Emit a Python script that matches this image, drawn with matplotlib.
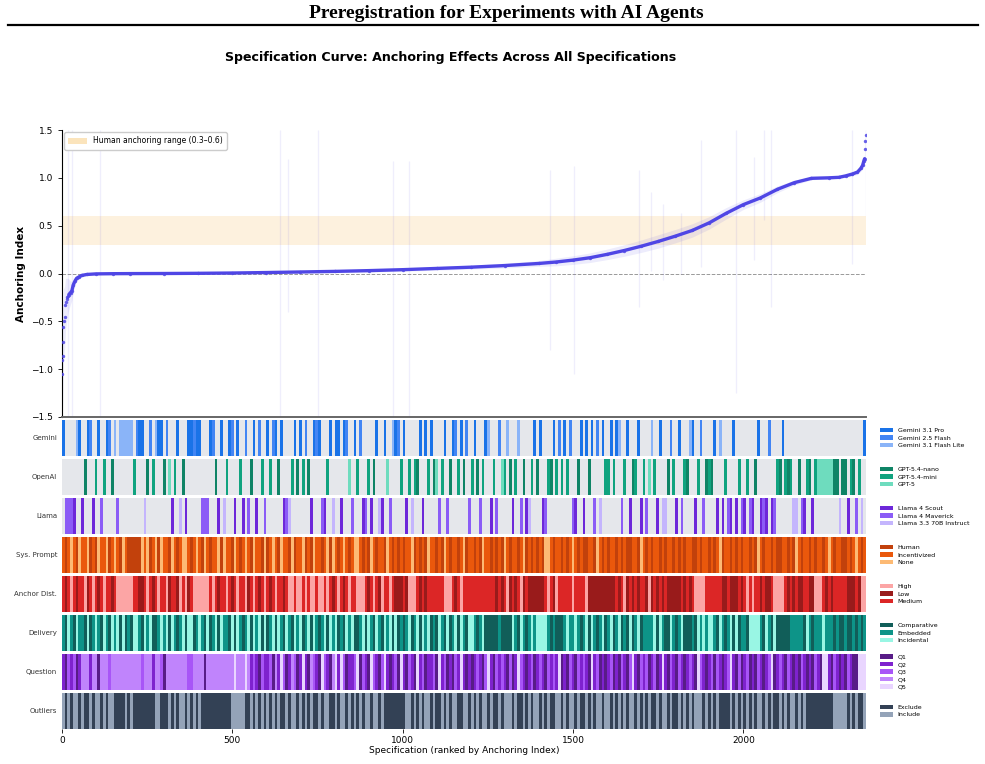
import numpy as np
import matplotlib.pyplot as plt
from matplotlib.colors import to_rgb
from matplotlib.patches import Patch

n_specs = 2360
bin_size = 8  # each code character covers 8 ranked specifications

# sorted anchoring index at sample ranks
curve_rank = [0, 1, 2, 3, 4, 6, 8, 10, 12, 14, 16, 18,
              20, 25, 29, 33, 38, 43, 50, 58, 73, 100, 150, 200,
              300, 400, 500, 600, 700, 800, 900, 1000, 1100, 1200, 1300, 1400,
              1450, 1500, 1550, 1600, 1650, 1700, 1750, 1800, 1850, 1900, 1950,
              2000, 2050, 2100, 2150, 2200, 2250,
              2280, 2300, 2320, 2335, 2345, 2350, 2354, 2356, 2357, 2358, 2359]
curve_value = [-1.05, -0.90, -0.86, -0.72, -0.56, -0.50, -0.45, -0.33, -0.30, -0.27, -0.25, -0.23,
               -0.22, -0.20, -0.18, -0.12, -0.08, -0.05, -0.035, -0.02, -0.01, -0.004, -0.002, -0.001,
               0.000, 0.002, 0.005, 0.010, 0.016, 0.022, 0.030, 0.040, 0.053, 0.066, 0.083, 0.105,
               0.120, 0.140, 0.165, 0.200, 0.240, 0.285, 0.335, 0.390, 0.450, 0.530, 0.630,
               0.720, 0.790, 0.880, 0.950, 0.995, 1.000,
               1.005, 1.020, 1.040, 1.060, 1.100, 1.130, 1.180, 1.200, 1.300, 1.380, 1.450]
curve_ci = [0.60, 0.55, 0.50, 0.45, 0.40, 0.35, 0.32, 0.28, 0.25, 0.22, 0.20, 0.18,
            0.16, 0.12, 0.10, 0.07, 0.05, 0.03, 0.02, 0.015, 0.010, 0.006, 0.005, 0.005,
            0.005, 0.005, 0.006, 0.008, 0.010, 0.012, 0.014, 0.016, 0.018, 0.020, 0.025, 0.030,
            0.040, 0.045, 0.050, 0.055, 0.060, 0.065, 0.070, 0.070, 0.070, 0.065, 0.060,
            0.050, 0.045, 0.035, 0.025, 0.015, 0.010,
            0.010, 0.015, 0.020, 0.025, 0.030, 0.035, 0.040, 0.050, 0.080, 0.100, 0.120]

# the wide, faint confidence intervals
whisker_rank = [18, 29, 112, 641, 662, 750, 973, 1018, 1432, 1503, 1694,
                1729, 1765, 1818, 1876, 1979, 2032, 2062, 2082, 2318, 2359]
whisker_lo = [-1.5, -1.5, -1.5, -1.5, -0.40, -1.5, -1.5, -1.5, -0.80, -1.05, -0.35,
              0.03, -0.07, 0.00, 0.07, -1.25, 0.14, 0.56, -0.35, 0.10, 0.60]
whisker_hi = [1.5, 1.5, 1.5, 1.5, 1.20, 1.5, 1.18, 1.18, 1.08, 1.12, 1.08,
              0.85, 0.73, 0.63, 1.40, 1.50, 1.22, 1.50, 1.50, 1.50, 1.50]

# specification indicators, one character per bin of ranked specs
model_codes = ("ahhhgcagdabgeaheabdchcccc" "cebaaidbecaadbfgeaidgaaba" "ahhhabdgaieabgaegbhdagbeh"
               "aebadaghieadaebdgabahgeai" "aagabfhaebghegdaigafhcabe" "ageiedagaeadfheahdabeadbh"
               "eadheacgehbfecdgechdgiead" "aghedaebeaebhgdagadahbiae" "eaeacheagdeagehfcegaiidbe"
               "gahedcagebhdedagcgehgageh" "gehgdaghgbghedaedeiidhged" "geffffffddiddgedheia")
sysprompt_codes = ("IHINIHNIINHIHNIINHINIHNIH" "HHHHNINHINHNIIHNIHINNIHIN" "IHNIHIINHNIIHNIHINIHNIIHN"
                   "HINIHNIIHNHIINHIHNIIHINHN" "IHINIHINNIHIHNIHIIHNIHIHI" "HIINHIHIHNIIHIHNIHIIHINHI"
                   "IHIHNIIHIHIHNIHIIHINHIHIH" "IHNNIHIIHIHINIHIHHIIHNIHI" "HIIHIHIHHIIHNIHIHIIHIHIIH"
                   "IHIHIIHHIHIIHIHINHIIHIHIH" "IIHIHNIHIIHIHHIIHIHNIHIIH" "IHIIHINIHIIHHIHINIHI")
anchor_codes = ("mlmpmlmmplmpmlmpmmlmppppp" "pmmllmpmlmpmmplmmlpmplmpp" "ppppmpmlmmpmlmpmmplmpmlmp"
                "mlmpmmlmppmppmpmppmppmpml" "mpmlmpmmpppmlmpmlpmmpmlll" "mlpppmlmlmmmmmmpppmlmpmmm"
                "mmmmmmmmmlmlmplmlmplmllll" "llmpmlpmmmmmpmmmmplllllll" "lllmlmplmlmlmmlplmlmlmlll"
                "llmlmlmppppmmmmmmllmlllml" "mpmpmmlmllmppppmlmlmllmml" "lpppmlmlmmmmmlllmlpp")
delivery_codes = ("eciecieeciceieciecieicice" "ciiecieicceieicieceiciice" "ieciceicieecicieceicieici"
                  "ceicieciecieiceicieceicie" "icecieicceicieciecieicice" "ceiceicieicecieciceicieci"
                  "ieceicccccecccciecieceiei" "iiiececcceieeieceicieceic" "eiceiceciceiceeeeicieccie"
                  "ceicccecieieiiecieceicice" "eciiiiecieciccccceeeeecie" "ceeeieeececceccecece")
question_codes = ("2132312444244144434444444" "4444344424431444444443344" "4414444444444544454232132"
                  "2314253124312521432153214" "5253122351321532135212315" "2132152312231523121325212"
                  "1232135213232131253212312" "3213232512132132321523121" "2312132135213231231252132"
                  "1321232153212313212352131" "2312132123512321321213212" "13215521321213211555")
outlier_codes = ("nxnxnnxnxxnxnnxnxnnxxxxnx" "nxxxxxxxxnnxxxnxnxnnxnxnx" "nxxxxxxxxxxxnnnnnxxnxnxnx"
                 "nxnxnxxnxnnxnxnxnxxnxnnxx" "nxnnxnxnxnxnnxnnxnxxxxxxx" "xnnxnxnxnnxnxxnxnxnnxxnnx"
                 "nxnxnnxnxxnxnnnxnxxnxnxnn" "xnxnxxnnxnxnnxnxxnxnxnnxn" "nxnxnxnxnnxnxnxnxxnxnnxnx"
                 "xnxnxnxnnnxnxnxnxxxxnxnxn" "xnxnxnnxnxnxxnxnxnnxnxnxx" "xxxxxxxxnnnnnxnxnxxn")

rows = [
    ("Gemini", model_codes, [("a", "Gemini 3.1 Pro", "#1a73e8"), ("b", "Gemini 2.5 Flash", "#4285f4"),
                             ("c", "Gemini 3.1 Flash Lite", "#8ab4f8")]),
    ("OpenAI", model_codes, [("d", "GPT-5.4-nano", "#0f8466"), ("e", "GPT-5.4-mini", "#10a37f"),
                             ("f", "GPT-5", "#6edcbe")]),
    ("Llama", model_codes, [("g", "Llama 4 Scout", "#6d28d9"), ("h", "Llama 4 Maverick", "#8b5cf6"),
                            ("i", "Llama 3.3 70B Instruct", "#c4b5fd")]),
    ("Sys. Prompt", sysprompt_codes, [("H", "Human", "#c2410c"), ("I", "Incentivized", "#ea580c"),
                                      ("N", "None", "#fdba74")]),
    ("Anchor Dist.", anchor_codes, [("p", "High", "#fca5a5"), ("l", "Low", "#991b1b"),
                                    ("m", "Medium", "#dc2626")]),
    ("Delivery", delivery_codes, [("c", "Comparative", "#115e59"), ("e", "Embedded", "#0d9488"),
                                  ("i", "Incidental", "#99f6e4")]),
    ("Question", question_codes, [("1", "Q1", "#581c87"), ("2", "Q2", "#7e22ce"), ("3", "Q3", "#a855f7"),
                                  ("4", "Q4", "#c084fc"), ("5", "Q5", "#e9d5ff")]),
    ("Outliers", outlier_codes, [("x", "Exclude", "#334155"), ("n", "Include", "#94a3b8")]),
]
empty_color = "#e5e7eb"
curve_color = "#4f46e5"

fig = plt.figure(figsize=(9.85, 7.64), dpi=100)
W, H = 985, 764

def box(x0, y0, x1, y1):
    return [x0 / W, 1 - y1 / H, (x1 - x0) / W, (y1 - y0) / H]

# page header
fig.text(506 / W, 1 - 14 / H, "Preregistration for Experiments with AI Agents", ha="center", va="center",
         fontsize=14, fontweight="bold", family="Liberation Serif")
fig.add_artist(plt.Line2D([8 / W, 978 / W], [1 - 25 / H, 1 - 25 / H], color="black", lw=1.6))
fig.text(451 / W, 1 - 57 / H, "Specification Curve: Anchoring Effects Across All Specifications",
         ha="center", va="center", fontsize=9.05, fontweight="bold")

# main curve
ax = fig.add_axes(box(62, 130, 866, 417))
ax.axhspan(0.3, 0.6, color="#f5a623", alpha=0.15, lw=0, zorder=0)
ax.axhline(0, color="#999999", lw=0.7, ls="--", zorder=1)
ax.vlines(whisker_rank, whisker_lo, whisker_hi, color=curve_color, alpha=0.09, lw=0.9, zorder=1)
rank = np.array(curve_rank)
val = np.array(curve_value)
ci = np.array(curve_ci)
ax.fill_between(rank, val - ci, val + ci, color=curve_color, alpha=0.1, lw=0, zorder=2)
solid = (rank >= 20) & (rank <= 2356)
ax.plot(rank[solid], val[solid], color=curve_color, lw=2.4, solid_capstyle="round", zorder=3)
ax.scatter(rank, val, s=6, color=curve_color, alpha=0.85, lw=0, zorder=4)
ax.set_xlim(0, n_specs)
ax.set_ylim(-1.5, 1.5)
ax.set_yticks([-1.5, -1.0, -0.5, 0.0, 0.5, 1.0, 1.5])
ax.tick_params(axis="y", labelsize=6.5, length=3, width=0.6)
ax.tick_params(axis="x", bottom=False, labelbottom=False)
ax.set_ylabel("Anchoring Index", fontsize=7.5, fontweight="bold", labelpad=4)
ax.spines["top"].set_visible(False)
ax.spines["right"].set_visible(False)
ax.spines["left"].set_linewidth(0.8)
ax.spines["bottom"].set_color("#666666")
ax.spines["bottom"].set_linewidth(1.4)
ax.legend(handles=[Patch(facecolor="#f5a623", alpha=0.3, lw=0, label="Human anchoring range (0.3\u20130.6)")],
          loc="upper left", fontsize=5.5, frameon=True, edgecolor="#cccccc", framealpha=1,
          handlelength=2.4, handleheight=0.9, borderpad=0.55, borderaxespad=0.3)

# indicator rows
for i, (name, codes, cats) in enumerate(rows):
    top = 420 + i * 39
    rax = fig.add_axes(box(62, top, 866, top + 36))
    lookup = {code: col for code, _, col in cats}
    colors = [lookup.get(c, empty_color) for c in codes]
    img = np.array([to_rgb(c) for c in colors])[np.newaxis, :, :]
    rax.imshow(img, aspect="auto", interpolation="nearest",
               extent=(0, len(codes) * bin_size, 0, 1))
    rax.set_xlim(0, n_specs)
    rax.set_ylim(0, 1)
    rax.set_yticks([])
    for s in rax.spines.values():
        s.set_visible(False)
    rax.text(-0.006, 0.5, name, transform=rax.transAxes, ha="right", va="center",
             fontsize=5, color="#333333")
    handles = [Patch(facecolor=col, lw=0, label=lab) for _, lab, col in cats]
    rax.legend(handles=handles, loc="center left", bbox_to_anchor=(1 + 14 / 804, 0.5),
               frameon=False, fontsize=4.5, handlelength=2.0, handleheight=0.75,
               handletextpad=0.8, labelspacing=0.32, borderpad=0, borderaxespad=0)
    if i < len(rows) - 1:
        rax.set_xticks([])
    else:
        rax.set_xticks([0, 500, 1000, 1500, 2000])
        rax.tick_params(axis="x", labelsize=6.5, length=3, width=0.6, pad=2)
        rax.set_xlabel("Specification (ranked by Anchoring Index)", fontsize=6.5, labelpad=1)

fig.savefig("out.png", dpi=100)
